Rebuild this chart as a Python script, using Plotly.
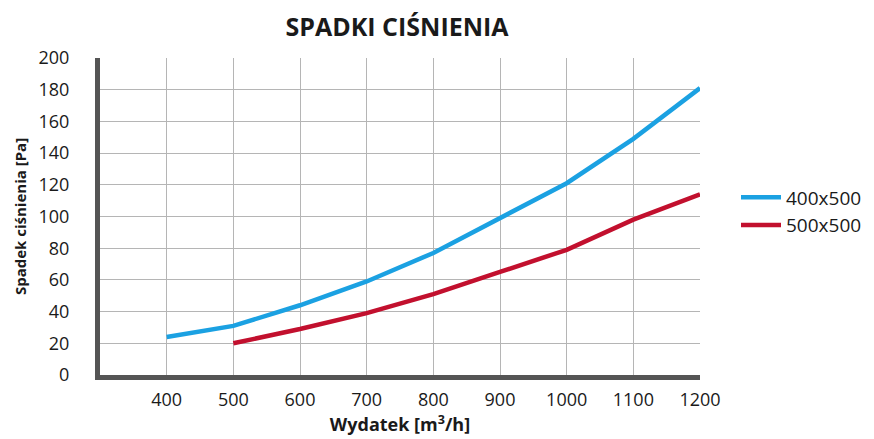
import plotly.graph_objects as go

x_400x500 = [400, 500, 600, 700, 800, 900, 1000, 1100, 1200]
y_400x500 = [24, 31, 44, 59, 77, 99, 121, 149, 181]
x_500x500 = [500, 600, 700, 800, 900, 1000, 1100, 1200]
y_500x500 = [20, 29, 39, 51, 65, 79, 98, 114]
x_ticks = [400, 500, 600, 700, 800, 900, 1000, 1100, 1200]
y_ticks = [0, 20, 40, 60, 80, 100, 120, 140, 160, 180, 200]

FONT = "Open Sans"
TXT = "#1a1a1a"

fig = go.Figure()
fig.add_trace(go.Scatter(x=x_400x500, y=y_400x500, mode="lines", name="400x500",
                         line=dict(color="#1ba1e2", width=4.5)))
fig.add_trace(go.Scatter(x=x_500x500, y=y_500x500, mode="lines", name="500x500",
                         line=dict(color="#c2102e", width=4.5)))

fig.update_layout(
    width=874, height=439,
    margin=dict(l=100, r=174, t=58, b=64, autoexpand=False),
    paper_bgcolor="white", plot_bgcolor="white",
    font=dict(family=FONT, color=TXT, size=18),
    title=dict(text="<b>SPADKI CIŚNIENIA</b>", x=397/874, xanchor="center",
               y=1 - 27/439, yanchor="middle", font=dict(size=25, family=FONT, color=TXT)),
    legend=dict(x=1.06, xanchor="left", y=0.62, yanchor="top",
                font=dict(size=19, family=FONT, color=TXT), tracegroupgap=4,
                itemwidth=40, bgcolor="rgba(0,0,0,0)"),
    showlegend=True,
    hovermode=False,
)
fig.update_xaxes(range=[300, 1200], tickvals=x_ticks, ticktext=[str(v) for v in x_ticks],
                 automargin=False,
                 showgrid=True, gridcolor="#b5b5b5", gridwidth=1,
                 showline=True, linecolor="#555555", linewidth=5,
                 ticks="outside", ticklen=4, tickcolor="rgba(0,0,0,0)",
                 zeroline=False, tickfont=dict(size=18),
                 title=dict(text="<b>Wydatek [m<sup>3</sup>/h]</b>", font=dict(size=18), standoff=4))
fig.update_yaxes(range=[0, 200], tickvals=y_ticks,
                 automargin=False,
                 showgrid=True, gridcolor="#b5b5b5", gridwidth=1,
                 showline=True, linecolor="#555555", linewidth=5,
                 ticks="outside", ticklen=22, tickcolor="rgba(0,0,0,0)",
                 zeroline=False, tickfont=dict(size=18),
                 title=dict(text="<b>Spadek ciśnienia [Pa]</b>", font=dict(size=15), standoff=10))

fig.write_html("out.html", config={"displayModeBar": False},
               post_script="document.body.style.margin='0px';document.body.style.overflow='hidden';")
